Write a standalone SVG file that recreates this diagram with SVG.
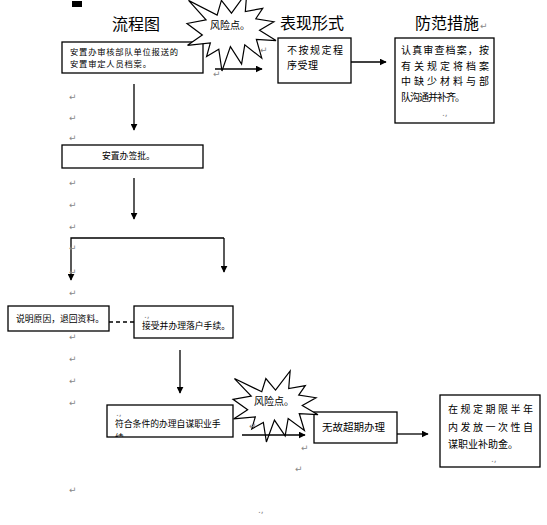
<svg xmlns="http://www.w3.org/2000/svg" xmlns:xlink="http://www.w3.org/1999/xlink" width="547" height="525" viewBox="0 0 547 525">
<style>
.box{fill:#fff;stroke:#000;stroke-width:1.3}
.ln{fill:none;stroke:#000;stroke-width:1.3}
.t{font-family:"Noto Sans CJK SC","Liberation Sans",sans-serif;fill:#000}
.title{font-size:16px}
.s9{font-size:8.8px}
.s10{font-size:10px}
.rm{font-family:"DejaVu Sans",sans-serif;font-size:9px;fill:#888}
.star{fill:#fff;stroke:#000;stroke-width:1.2}
</style>
<defs>
<marker id="ah" viewBox="0 0 10 10" refX="9" refY="5" markerWidth="7" markerHeight="7" markerUnits="userSpaceOnUse" orient="auto">
<path d="M0,0 L10,5 L0,10 z" fill="#000"/>
</marker>
<polygon id="seal" points="50,26.85 67.23,0 65.53,24.65 85.09,20.63 77.32,33.87 97.67,37.67 81.51,48.5 100,61.53 77.95,59.92 84,83.77 64.91,66.93 61.33,91.38 48.76,69.14 39.28,100 35.72,72.35 22.05,81.56 26.24,64.52 0.63,67.53 17.23,54.51 0,39.88 21.42,35.26 1.71,10.63 33.85,29.26 38.67,10.63" vector-effect="non-scaling-stroke"/>
<clipPath id="c7"><rect x="107" y="405" width="126" height="32"/></clipPath>
</defs>

<rect x="72" y="1" width="10" height="6" fill="#000"/>

<g id="titles">
<text class="t title" x="136" y="30" text-anchor="middle">流程图</text>
<text class="t title" x="312" y="29" text-anchor="middle">表现形式</text>
<text class="t title" x="447" y="29" text-anchor="middle">防范措施</text>
<text class="rm" x="480" y="29">↵</text>
</g>

<g id="connectors">
<line class="ln" x1="215" y1="69" x2="262" y2="69" marker-end="url(#ah)"/>
<line class="ln" x1="351" y1="62" x2="386" y2="62" marker-end="url(#ah)"/>
<line class="ln" x1="134" y1="84" x2="134" y2="130" marker-end="url(#ah)"/>
<line class="ln" x1="134" y1="178" x2="134" y2="219" marker-end="url(#ah)"/>
<polyline class="ln" points="224,238 71,238 71,280" marker-end="url(#ah)"/>
<line class="ln" x1="224" y1="238" x2="224" y2="272" marker-end="url(#ah)"/>
<line class="ln" x1="109" y1="322" x2="134" y2="322" stroke-dasharray="4,3"/>
<line class="ln" x1="180" y1="350" x2="180" y2="393" marker-end="url(#ah)"/>
<line class="ln" x1="397" y1="434" x2="428" y2="434" marker-end="url(#ah)"/>
</g>

<g id="box1">
<rect class="box" x="62" y="42" width="141" height="31"/>
<text class="t" font-size="8.3px" x="70" y="54.5" textLength="108" lengthAdjust="spacing">安置办审核部队单位报送的</text>
<text class="t" font-size="8.3px" x="70" y="66.5" textLength="81" lengthAdjust="spacing">安置审定人员档案。</text>
</g>

<g id="risk1">
<use xlink:href="#seal" class="star" transform="translate(187,-8) scale(0.89,0.79)"/>
<text class="t s10" x="230" y="29" text-anchor="middle">风险点。</text>
</g>

<g id="box2">
<rect class="box" x="278" y="38" width="73" height="45"/>
<text class="t s10" x="287" y="54" textLength="56" lengthAdjust="spacing">不按规定程</text>
<text class="t s10" x="287" y="69" textLength="31" lengthAdjust="spacing">序受理</text>
</g>

<g id="box3">
<rect class="box" x="395" y="38" width="99" height="85"/>
<text class="t s10" x="401" y="54" textLength="88" lengthAdjust="spacing">认真审查档案，按</text>
<text class="t s10" x="401" y="70" textLength="88" lengthAdjust="spacing">有关规定将档案</text>
<text class="t s10" x="401" y="85" textLength="88" lengthAdjust="spacing">中缺少材料与部</text>
<text class="t s10" x="401" y="101" textLength="64" lengthAdjust="spacing">队沟通并补齐。</text>
<text class="rm" x="442" y="116" font-size="6">.,</text>
</g>

<g id="box4">
<rect class="box" x="62" y="145" width="141" height="23"/>
<text class="t s9" x="102" y="159">安置办签批。</text>
</g>

<g id="box5">
<rect class="box" x="8" y="306" width="101" height="25"/>
<text class="t s9" x="16" y="322">说明原因，退回资料。</text>
</g>

<g id="box6">
<rect class="box" x="134" y="306" width="99" height="32"/>
<text class="rm" x="144" y="318" font-size="6">.,</text>
<text class="t s9" x="142" y="329">接受并办理落户手续。</text>
</g>

<g id="box7">
<rect class="box" x="107" y="405" width="126" height="32"/>
<g clip-path="url(#c7)">
<text class="rm" x="116" y="416" font-size="6">.,</text>
<text class="t s9" x="115" y="427">符合条件的办理自谋职业手</text>
<text class="t s9" x="115" y="441">续</text>
</g>
</g>

<g id="box8">
<rect class="box" x="314" y="412" width="83" height="31"/>
<text class="t" x="322" y="431" font-size="10.5px">无故超期办理</text>
</g>

<g id="risk2">
<use xlink:href="#seal" class="star" transform="translate(233,371) scale(0.85,0.71)"/>
<text class="t s10" x="274" y="405" text-anchor="middle">风险点。</text>
</g>
<line class="ln" x1="242" y1="435" x2="305" y2="435" marker-end="url(#ah)"/>

<g id="box9">
<rect class="box" x="440" y="395" width="100" height="72"/>
<text class="t s10" x="448" y="413" textLength="85" lengthAdjust="spacing">在规定期限半年</text>
<text class="t s10" x="448" y="431" textLength="85" lengthAdjust="spacing">内发放一次性自</text>
<text class="t s10" x="448" y="448">谋职业补助金。</text>
<text class="rm" x="491" y="462" font-size="6">.,</text>
</g>

<g id="marks">
<text class="rm" x="260" y="53">↵</text>
<text class="rm" x="213" y="77">↵</text>
<text class="rm" x="69" y="100">↵</text>
<text class="rm" x="69" y="121">↵</text>
<text class="rm" x="69" y="141">↵</text>
<text class="rm" x="69" y="186">↵</text>
<text class="rm" x="69" y="208">↵</text>
<text class="rm" x="69" y="230">↵</text>
<text class="rm" x="69" y="251">↵</text>
<text class="rm" x="69" y="275">↵</text>
<text class="rm" x="69" y="296">↵</text>
<text class="rm" x="69" y="340">↵</text>
<text class="rm" x="69" y="362">↵</text>
<text class="rm" x="69" y="384">↵</text>
<text class="rm" x="69" y="406">↵</text>
<text class="rm" x="69" y="493">↵</text>
<text class="rm" x="249" y="429">↵</text>
<text class="rm" x="301" y="451">↵</text>
<text class="rm" x="295" y="472">↵</text>
<text class="rm" x="258" y="513" font-size="6">.,</text>
</g>
</svg>
